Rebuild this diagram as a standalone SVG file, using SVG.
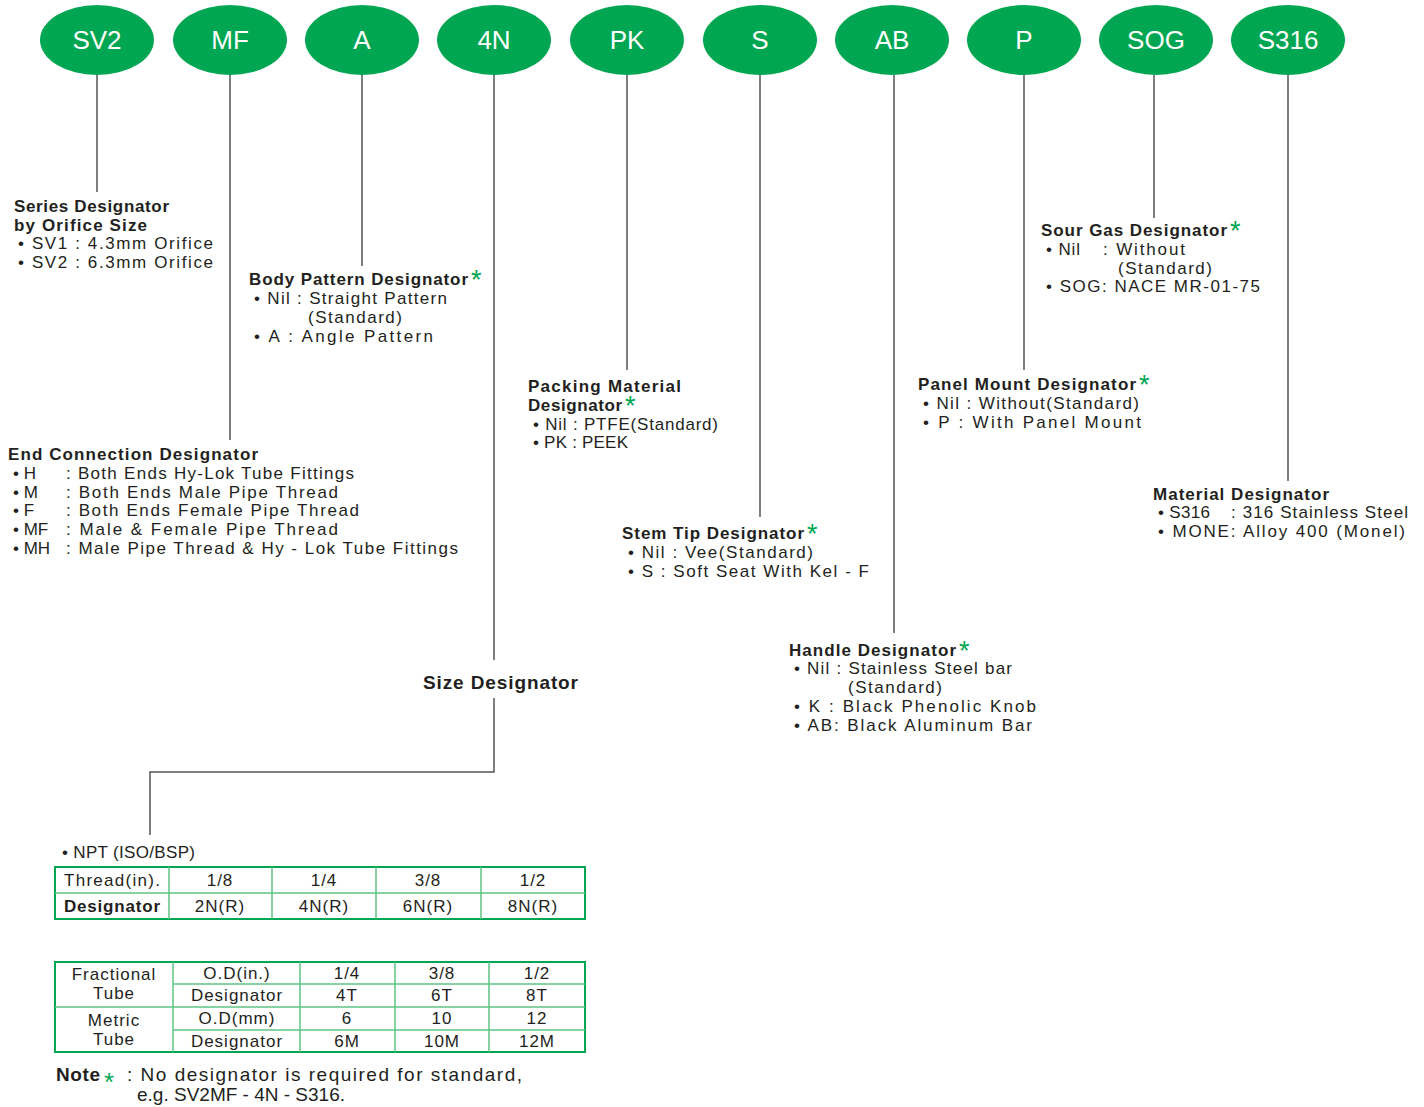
<svg xmlns="http://www.w3.org/2000/svg" width="1424" height="1107" viewBox="0 0 1424 1107">
<style>
.node ellipse{fill:#00a651}
.nt{font-family:"Liberation Sans",Arial,sans-serif;font-size:26px;fill:#fff;text-anchor:middle}
.h{font-family:"Liberation Sans",Arial,sans-serif;font-size:17px;font-weight:bold;fill:#231f20}
.t{font-family:"Liberation Sans",Arial,sans-serif;font-size:17px;fill:#231f20}
.tc{font-family:"Liberation Sans",Arial,sans-serif;font-size:17px;fill:#231f20;text-anchor:middle;letter-spacing:1px}
.ast{font-size:27px;fill:#00a651;font-weight:normal}
.conn line,.conn polyline{stroke:#555;stroke-width:1.5;fill:none}
.tb{stroke:#00a651;stroke-width:2;fill:none}
.tl{stroke:#5cc384;stroke-width:1.5}
</style>
<g class="conn" id="connectors">
<line x1="97" y1="75" x2="97" y2="192"/>
<line x1="230" y1="75" x2="230" y2="440"/>
<line x1="362" y1="75" x2="362" y2="266"/>
<line x1="494" y1="75" x2="494" y2="660"/>
<polyline points="494,698 494,772 150,772 150,835"/>
<line x1="627" y1="75" x2="627" y2="370"/>
<line x1="760" y1="75" x2="760" y2="517"/>
<line x1="894" y1="75" x2="894" y2="633"/>
<line x1="1024" y1="75" x2="1024" y2="370"/>
<line x1="1154" y1="75" x2="1154" y2="218"/>
<line x1="1288" y1="75" x2="1288" y2="481"/>
</g>
<g class="node" id="n-sv2"><ellipse cx="97" cy="40" rx="57" ry="35"/><text class="nt" x="97" y="49">SV2</text></g>
<g class="node" id="n-mf"><ellipse cx="230" cy="40" rx="57" ry="35"/><text class="nt" x="230" y="49">MF</text></g>
<g class="node" id="n-a"><ellipse cx="362" cy="40" rx="57" ry="35"/><text class="nt" x="362" y="49">A</text></g>
<g class="node" id="n-4n"><ellipse cx="494" cy="40" rx="57" ry="35"/><text class="nt" x="494" y="49">4N</text></g>
<g class="node" id="n-pk"><ellipse cx="627" cy="40" rx="57" ry="35"/><text class="nt" x="627" y="49">PK</text></g>
<g class="node" id="n-s"><ellipse cx="760" cy="40" rx="57" ry="35"/><text class="nt" x="760" y="49">S</text></g>
<g class="node" id="n-ab"><ellipse cx="892" cy="40" rx="57" ry="35"/><text class="nt" x="892" y="49">AB</text></g>
<g class="node" id="n-p"><ellipse cx="1024" cy="40" rx="57" ry="35"/><text class="nt" x="1024" y="49">P</text></g>
<g class="node" id="n-sog"><ellipse cx="1156" cy="40" rx="57" ry="35"/><text class="nt" x="1156" y="49">SOG</text></g>
<g class="node" id="n-s316"><ellipse cx="1288" cy="40" rx="57" ry="35"/><text class="nt" x="1288" y="49">S316</text></g>

<g id="series">
<text class="h" x="14" y="212" textLength="155" lengthAdjust="spacing">Series Designator</text>
<text class="h" x="14" y="231" textLength="133" lengthAdjust="spacing">by Orifice Size</text>
<text class="t" x="18" y="249" textLength="195" lengthAdjust="spacing">• SV1 : 4.3mm Orifice</text>
<text class="t" x="18" y="268" textLength="195" lengthAdjust="spacing">• SV2 : 6.3mm Orifice</text>
</g>
<g id="body">
<text class="h" x="249" y="285"><tspan textLength="219" lengthAdjust="spacing">Body Pattern Designator</tspan><tspan class="ast" x="471" dy="4">*</tspan></text>
<text class="t" x="254" y="304" textLength="193" lengthAdjust="spacing">• Nil :  Straight Pattern</text>
<text class="t" x="308" y="323" textLength="94" lengthAdjust="spacing">(Standard)</text>
<text class="t" x="254" y="342" textLength="179" lengthAdjust="spacing">• A   :  Angle Pattern</text>
</g>
<g id="endconn">
<text class="h" x="8" y="460" textLength="250" lengthAdjust="spacing">End Connection Designator</text>
<text class="t" x="13" y="479">• H</text><text class="t" x="66" y="479" textLength="288" lengthAdjust="spacing">:  Both Ends Hy-Lok Tube Fittings</text>
<text class="t" x="13" y="498">• M</text><text class="t" x="66" y="498" textLength="272" lengthAdjust="spacing">:  Both Ends Male Pipe Thread</text>
<text class="t" x="13" y="516">• F</text><text class="t" x="66" y="516" textLength="293" lengthAdjust="spacing">:  Both Ends Female Pipe Thread</text>
<text class="t" x="13" y="535">• MF</text><text class="t" x="66" y="535" textLength="272" lengthAdjust="spacing">:  Male &amp; Female Pipe Thread</text>
<text class="t" x="13" y="554">• MH</text><text class="t" x="66" y="554" textLength="392" lengthAdjust="spacing">:  Male Pipe Thread &amp; Hy - Lok Tube Fittings</text>
</g>
<g id="packing">
<text class="h" x="528" y="392" textLength="153" lengthAdjust="spacing">Packing Material</text>
<text class="h" x="528" y="411"><tspan textLength="94" lengthAdjust="spacing">Designator</tspan><tspan class="ast" x="625" dy="4">*</tspan></text>
<text class="t" x="533" y="430" textLength="185" lengthAdjust="spacing">• Nil :  PTFE(Standard)</text>
<text class="t" x="533" y="448" textLength="95" lengthAdjust="spacing">• PK :  PEEK</text>
</g>
<g id="stem">
<text class="h" x="622" y="539"><tspan textLength="182" lengthAdjust="spacing">Stem Tip Designator</tspan><tspan class="ast" x="807" dy="4">*</tspan></text>
<text class="t" x="628" y="558" textLength="185" lengthAdjust="spacing">• Nil :  Vee(Standard)</text>
<text class="t" x="628" y="577" textLength="241" lengthAdjust="spacing">• S   :  Soft Seat With Kel - F</text>
</g>
<g id="handle">
<text class="h" x="789" y="656"><tspan textLength="167" lengthAdjust="spacing">Handle Designator</tspan><tspan class="ast" x="959" dy="4">*</tspan></text>
<text class="t" x="794" y="674" textLength="218" lengthAdjust="spacing">• Nil :  Stainless Steel bar</text>
<text class="t" x="848" y="693" textLength="94" lengthAdjust="spacing">(Standard)</text>
<text class="t" x="794" y="712" textLength="242" lengthAdjust="spacing">• K   :  Black Phenolic Knob</text>
<text class="t" x="794" y="731" textLength="238" lengthAdjust="spacing">• AB:  Black Aluminum Bar</text>
</g>
<g id="sourgas">
<text class="h" x="1041" y="236"><tspan textLength="186" lengthAdjust="spacing">Sour Gas Designator</tspan><tspan class="ast" x="1230" dy="4">*</tspan></text>
<text class="t" x="1046" y="255" textLength="34" lengthAdjust="spacing">• Nil</text><text class="t" x="1103" y="255" textLength="82" lengthAdjust="spacing">:  Without</text>
<text class="t" x="1118" y="274" textLength="94" lengthAdjust="spacing">(Standard)</text>
<text class="t" x="1046" y="292" textLength="214" lengthAdjust="spacing">• SOG:  NACE MR-01-75</text>
</g>
<g id="panel">
<text class="h" x="918" y="390"><tspan textLength="218" lengthAdjust="spacing">Panel Mount Designator</tspan><tspan class="ast" x="1139" dy="4">*</tspan></text>
<text class="t" x="923" y="409" textLength="216" lengthAdjust="spacing">• Nil :  Without(Standard)</text>
<text class="t" x="923" y="428" textLength="218" lengthAdjust="spacing">• P   :  With Panel Mount</text>
</g>
<g id="material">
<text class="h" x="1153" y="500" textLength="176" lengthAdjust="spacing">Material Designator</text>
<text class="t" x="1158" y="518" textLength="52" lengthAdjust="spacing">• S316</text><text class="t" x="1231" y="518" textLength="177" lengthAdjust="spacing">:  316 Stainless Steel</text>
<text class="t" x="1158" y="537" textLength="247" lengthAdjust="spacing">• MONE:  Alloy 400 (Monel)</text>
</g>
<g id="size">
<text class="h" x="423" y="689" style="font-size:19px" textLength="155" lengthAdjust="spacing">Size Designator</text>
<text class="t" x="62" y="858" textLength="133" lengthAdjust="spacing">• NPT  (ISO/BSP)</text>
<rect class="tb" x="55" y="867" width="530" height="52"/>
<line class="tl" x1="55" y1="893" x2="585" y2="893"/>
<line class="tl" x1="169" y1="867" x2="169" y2="919"/>
<line class="tl" x1="272" y1="867" x2="272" y2="919"/>
<line class="tl" x1="376" y1="867" x2="376" y2="919"/>
<line class="tl" x1="481" y1="867" x2="481" y2="919"/>
<text class="t" x="64" y="886" textLength="96" lengthAdjust="spacing">Thread(in).</text>
<text class="h" x="64" y="912" textLength="96" lengthAdjust="spacing">Designator</text>
<text class="tc" x="220" y="886">1/8</text><text class="tc" x="324" y="886">1/4</text><text class="tc" x="428" y="886">3/8</text><text class="tc" x="533" y="886">1/2</text>
<text class="tc" x="220" y="912">2N(R)</text><text class="tc" x="324" y="912">4N(R)</text><text class="tc" x="428" y="912">6N(R)</text><text class="tc" x="533" y="912">8N(R)</text>

<rect class="tb" x="55" y="962" width="530" height="90"/>
<line class="tl" x1="173" y1="984" x2="585" y2="984"/>
<line class="tl" x1="55" y1="1007" x2="585" y2="1007"/>
<line class="tl" x1="173" y1="1030" x2="585" y2="1030"/>
<line class="tl" x1="173" y1="962" x2="173" y2="1052"/>
<line class="tl" x1="300" y1="962" x2="300" y2="1052"/>
<line class="tl" x1="395" y1="962" x2="395" y2="1052"/>
<line class="tl" x1="489" y1="962" x2="489" y2="1052"/>
<text class="tc" x="114" y="980">Fractional</text><text class="tc" x="114" y="999">Tube</text>
<text class="tc" x="114" y="1026">Metric</text><text class="tc" x="114" y="1045">Tube</text>
<text class="tc" x="237" y="979">O.D(in.)</text><text class="tc" x="347" y="979">1/4</text><text class="tc" x="442" y="979">3/8</text><text class="tc" x="537" y="979">1/2</text>
<text class="tc" x="237" y="1001">Designator</text><text class="tc" x="347" y="1001">4T</text><text class="tc" x="442" y="1001">6T</text><text class="tc" x="537" y="1001">8T</text>
<text class="tc" x="237" y="1024">O.D(mm)</text><text class="tc" x="347" y="1024">6</text><text class="tc" x="442" y="1024">10</text><text class="tc" x="537" y="1024">12</text>
<text class="tc" x="237" y="1047">Designator</text><text class="tc" x="347" y="1047">6M</text><text class="tc" x="442" y="1047">10M</text><text class="tc" x="537" y="1047">12M</text>
</g>
<g id="note">
<text class="h" x="56" y="1081" style="font-size:19px"><tspan textLength="44" lengthAdjust="spacing">Note</tspan><tspan class="ast" x="104" dy="10" style="font-size:26px">*</tspan></text>
<text class="t" x="127" y="1081" style="font-size:19px" textLength="395" lengthAdjust="spacing">: No designator is required for standard,</text>
<text class="t" x="137" y="1101" style="font-size:19px" textLength="208" lengthAdjust="spacing">e.g. SV2MF - 4N - S316.</text>
</g>
</svg>
